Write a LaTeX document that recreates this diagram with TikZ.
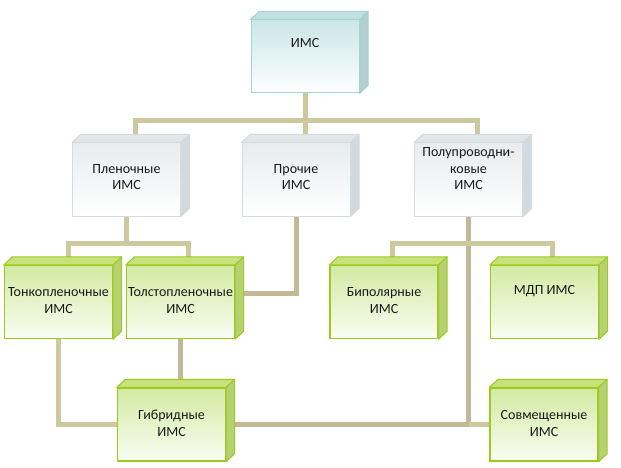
\documentclass[tikz,border=0pt]{standalone}
\usepackage{fontspec}
\setmainfont{Carlito}
\usetikzlibrary{calc}
\pgfdeclarelayer{background}
\pgfsetlayers{background,main}
\definecolor{lnA}{HTML}{CBC99D}
\definecolor{lnB}{HTML}{C3B996}
\definecolor{imsTop}{HTML}{CAE6E7}
\definecolor{imsBd}{HTML}{A6D2D2}
\definecolor{imsLid}{HTML}{C2E0E0}
\definecolor{imsSide}{HTML}{B2D0D0}
\definecolor{gTop}{HTML}{E8ECEE}
\definecolor{gBd}{HTML}{D4DCDF}
\definecolor{gLid}{HTML}{E1E6E8}
\definecolor{gSide}{HTML}{D3DADD}
\definecolor{vTop}{HTML}{D2EAA2}
\definecolor{vBot}{HTML}{FAFDF3}
\definecolor{vBd}{HTML}{9BCB1E}
\definecolor{vLid}{HTML}{C8E17C}
\definecolor{vSide}{HTML}{B7D071}
\tikzset{
  cube/.style={rectangle, minimum width=108pt, minimum height=73pt, inner sep=0pt},
  imsbox/.style={cube, draw=imsBd, line width=1pt, top color=imsTop, bottom color=white},
  greybox/.style={cube, draw=gBd, line width=1pt, top color=gTop, bottom color=white},
  greenbox/.style={cube, draw=vBd, line width=1.3pt, top color=vTop, bottom color=vBot},
  txt/.style={align=center, font=\fontsize{14}{16.5}\selectfont, text=black!90, inner sep=0pt},
  lnl/.style={draw=lnA, line width=5pt},
  lnd/.style={draw=lnB, line width=5pt},
}
\newcommand{\cubefaces}[4]{%
  \filldraw[fill=#2, draw=#4, line width=1pt, line join=round]
    (#1.north west) -- ++(8.5pt,8pt) -- ([xshift=8.5pt,yshift=8pt]#1.north east) -- (#1.north east) -- cycle;
  \filldraw[fill=#3, draw=#4, line width=1pt, line join=round]
    (#1.north east) -- ([xshift=8.5pt,yshift=8pt]#1.north east) -- ([xshift=8.5pt,yshift=8pt]#1.south east) -- (#1.south east) -- cycle;
}
\begin{document}
\begin{tikzpicture}[x=1pt,y=-1pt]
\useasboundingbox (0,0) rectangle (621,468);

% boxes
\node[imsbox] (ims) at (305,56.5) {};
\node[greybox] (plen) at (126.5,179.5) {};
\node[greybox] (proch) at (296,179.5) {};
\node[greybox] (polu) at (468.5,179.5) {};
\node[greenbox] (tonk) at (58.5,302) {};
\node[greenbox] (tols) at (180.5,302) {};
\node[greenbox] (bipo) at (384,302) {};
\node[greenbox] (mdp) at (544.5,302) {};
\node[greenbox] (gibr) at (171.5,424.5) {};
\node[greenbox] (sovm) at (544,424.5) {};

\cubefaces{ims}{imsLid}{imsSide}{imsBd}
\cubefaces{plen}{gLid}{gSide}{gBd}
\cubefaces{proch}{gLid}{gSide}{gBd}
\cubefaces{polu}{gLid}{gSide}{gBd}
\cubefaces{tonk}{vLid}{vSide}{vBd}
\cubefaces{tols}{vLid}{vSide}{vBd}
\cubefaces{bipo}{vLid}{vSide}{vBd}
\cubefaces{mdp}{vLid}{vSide}{vBd}
\cubefaces{gibr}{vLid}{vSide}{vBd}
\cubefaces{sovm}{vLid}{vSide}{vBd}

% texts
\node[txt] (ims-t) at ([yshift=13.5pt]ims.center) {ИМС};
\node[txt] (plen-t) at ([yshift=2.5pt]plen.center) {Пленочные\\ИМС};
\node[txt] (proch-t) at ([yshift=2.5pt]proch.center) {Прочие\\ИМС};
\node[txt] (polu-t) at ([yshift=10.5pt]polu.center) {Полупроводни-\\ковые\\ИМС};
\node[txt] (tonk-t) at ([yshift=1.5pt]tonk.center) {Тонкопленочные\\ИМС};
\node[txt] (tols-t) at ([yshift=1.5pt]tols.center) {Толстопленочные\\ИМС};
\node[txt] (bipo-t) at ([yshift=1.5pt]bipo.center) {Биполярные\\ИМС};
\node[txt] (mdp-t) at ([yshift=11pt]mdp.center) {МДП ИМС};
\node[txt] (gibr-t) at ([yshift=1pt]gibr.center) {Гибридные\\ИМС};
\node[txt] (sovm-t) at ([yshift=1pt]sovm.center) {Совмещенные\\ИМС};

% connectors
\coordinate (b1) at (305,121);
\coordinate (b2) at (126.5,243);
\coordinate (b3) at (468.5,243);
\coordinate (j1) at (polu.south |- gibr.east);
\begin{pgfonlayer}{background}
\fill[white] (0,0) rectangle (621,468);
\draw[lnl] (ims.south) -- (b1);
\draw[lnl] (b1) -| ([xshift=8.5pt]plen.north);
\draw[lnl] (b1) -| ([xshift=8.5pt]polu.north);
\draw[lnl] (b1) -- ([xshift=9pt]proch.north);
\draw[lnl] (plen.south) -- (b2);
\draw[lnl] (b2) -| ([xshift=9.5pt]tonk.north);
\draw[lnl] (b2) -| ([xshift=8pt]tols.north);
\draw[lnd] (proch.south) |- ([xshift=4pt,yshift=9pt]tols.east);
\draw[lnd] (polu.south) -- (j1);
\draw[lnl] (b3) -| ([xshift=8pt]bipo.north);
\draw[lnl] (b3) -| ([xshift=8pt]mdp.north);
\draw[lnl] (tonk.south) |- (gibr.west);
\draw[lnd] (tols.south) -- (tols.south |- gibr.north);
\draw[lnd] (gibr.east) -- (j1);
\draw[lnl] (j1) -- (sovm.west);
\end{pgfonlayer}
\end{tikzpicture}
\end{document}
